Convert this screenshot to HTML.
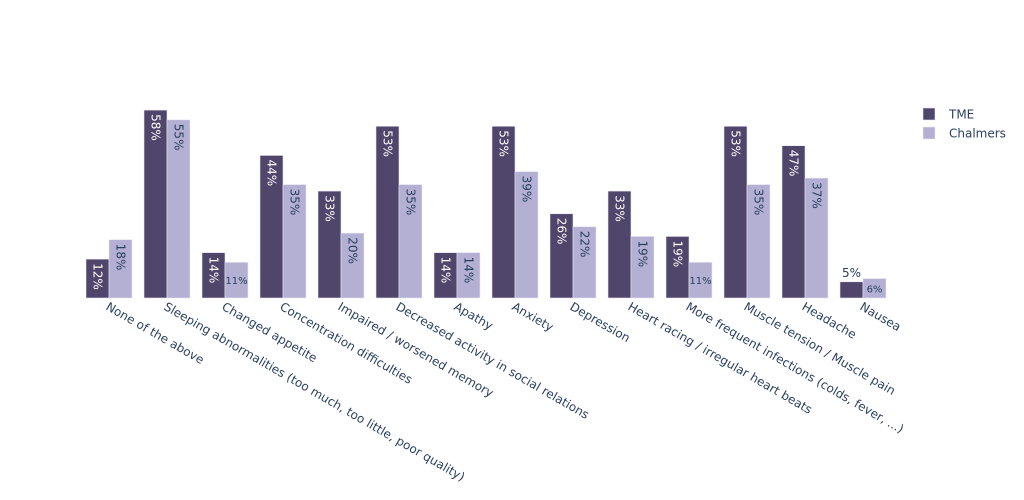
<!DOCTYPE html>
<html><head><meta charset="utf-8"><style>
body{margin:0;background:#fff;}
svg{display:block;font-family:"DejaVu Sans","Liberation Sans",sans-serif;}
</style></head><body>
<svg id="chart" width="1024" height="500"></svg>
<script>
const categories=["None of the above","Sleeping abnormalities (too much, too little, poor quality)","Changed appetite","Concentration difficulties","Impaired / worsened memory","Decreased  activity in social relations","Apathy","Anxiety","Depression","Heart racing / irregular heart beats","More frequent infections (colds, fever, ...)","Muscle tension / Muscle pain","Headache","Nausea"];
const tmeValues=[12,58,14,44,33,53,14,53,26,33,19,53,47,5];
const chalmersValues=[18,55,11,35,20,35,14,39,22,19,11,35,37,6];
const seriesNames=["TME","Chalmers"];
const colors=["#50456b","#b3b0d3"];
const NS="http://www.w3.org/2000/svg";
const svg=document.getElementById('chart');
const x0=80,slot=58,base=298,pxPer=3.24,bw=23,gap=6;
function xPos(i,s){return x0+i*slot+gap+s*bw;}
function yPos(v){return base-v*pxPer;}
function mk(t,a,p){const e=document.createElementNS(NS,t);for(const k in a)e.setAttribute(k,a[k]);(p||svg).appendChild(e);return e;}
const gBars=mk('g',{});


[tmeValues,chalmersValues].forEach((vals,s)=>{
  vals.forEach((v,i)=>{
    const x=xPos(i,s),y=yPos(v),h=base-y;
    const r=mk('rect',{x:x,y:y,width:bw,height:h,fill:colors[s],stroke:'#e6e4f0','stroke-width':0.6},gBars);
    
    
    const txtCol=s===0?'#ffffff':'#2a3f5f';
    let t;
    if(h>=36){
      const cx=x+bw/2,cy=y+4;
      t=mk('text',{x:cx,y:cy,fill:txtCol,'font-size':12,'text-anchor':'start','dominant-baseline':'central',transform:`rotate(90 ${cx} ${cy})`},gBars);
    } else if(s===0){
      t=mk('text',{x:x+bw/2,y:y-5,fill:'#2a3f5f','font-size':12,'text-anchor':'middle'},gBars);
    } else {
      t=mk('text',{x:x+bw/2,y:y+h/2+4,fill:'#2a3f5f','font-size':10,'text-anchor':'middle'},gBars);
    }
    t.textContent=v+'%';
    
    
  });
});
const gAx=mk('g',{});


categories.forEach((c,i)=>{
  const cx=x0+i*slot+slot/2-4,cy=309;
  const t=mk('text',{x:cx,y:cy,fill:'#2a3f5f','font-size':12,transform:`rotate(30 ${cx} ${cy})`},gAx);
  t.textContent=c;
  
  
});
const gL=mk('g',{});


seriesNames.forEach((n,s)=>{
  const y=114+s*19;
  const r=mk('rect',{x:923,y:y-6,width:12,height:12,fill:colors[s],stroke:'#e6e4f0','stroke-width':0.6},gL);
  
  
  const t=mk('text',{x:949,y:y+4.5,fill:'#2a3f5f','font-size':12},gL);
  t.textContent=n;
  
  
});
</script>
</body></html>
